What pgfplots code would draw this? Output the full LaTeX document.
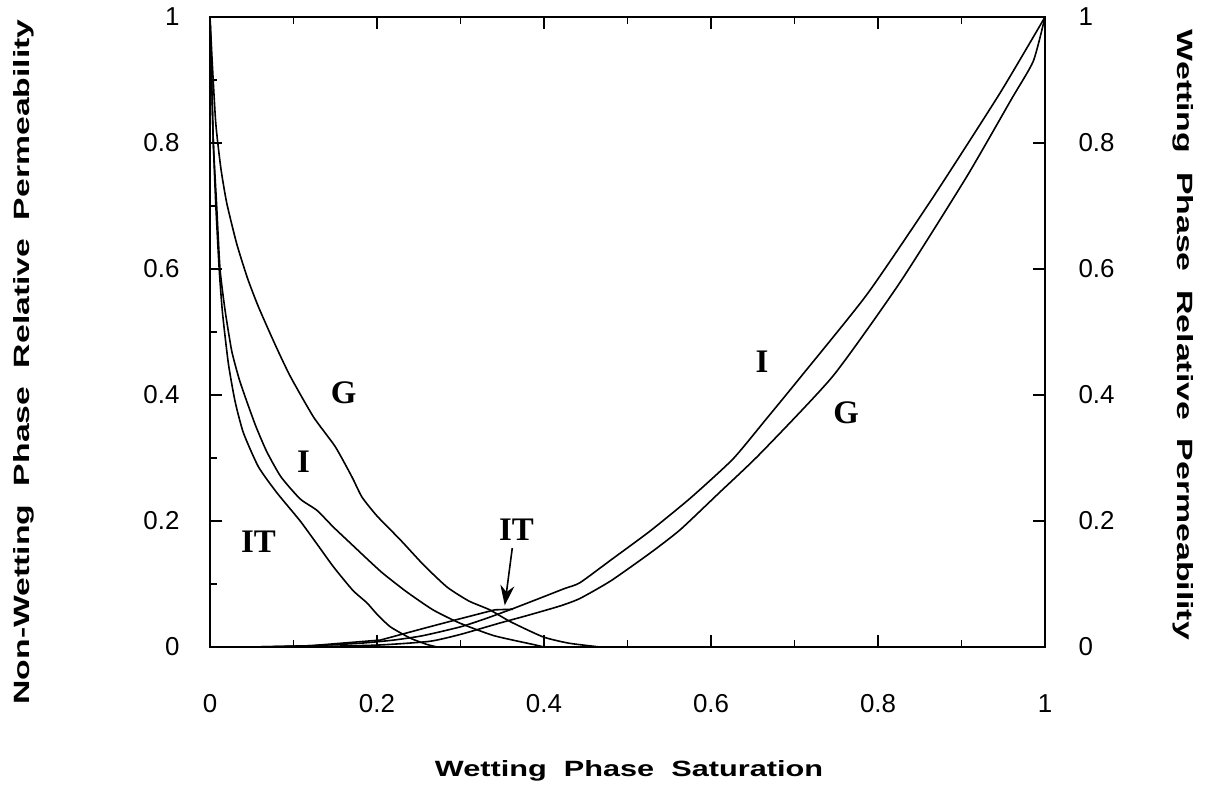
\documentclass[border=0pt]{standalone}
\usepackage{fontspec}
\setmainfont{Liberation Sans}
\newfontfamily\serifb{Liberation Serif}
\usepackage{graphicx}
\usepackage{pgfplots}
\pgfplotsset{compat=1.18}
\usetikzlibrary{arrows.meta}

\pgfplotstableread{
S k
0 1
0.003 0.92
0.007 0.83
0.013 0.76
0.02 0.705
0.032 0.64
0.045 0.585
0.058 0.54
0.078 0.48
0.096 0.43
0.124 0.365
0.150 0.318
0.170 0.27
0.182 0.238
0.200 0.208
0.228 0.17
0.256 0.13
0.284 0.095
0.310 0.073
0.335 0.059
0.360 0.040
0.399 0.016
0.430 0.006
0.467 0
}\nwG

\pgfplotstableread{
S k
0 1
0.002 0.9
0.004 0.8
0.008 0.7
0.012 0.6
0.018 0.535
0.026 0.47
0.035 0.425
0.044 0.39
0.055 0.35
0.068 0.31
0.085 0.27
0.108 0.235
0.128 0.217
0.148 0.19
0.168 0.165
0.188 0.14
0.207 0.117
0.235 0.088
0.267 0.059
0.299 0.038
0.340 0.018
0.387 0.004
0.400 0
}\nwI

\pgfplotstableread{
S k
0 1
0.002 0.9
0.004 0.8
0.007 0.7
0.011 0.6
0.015 0.53
0.022 0.45
0.030 0.39
0.040 0.34
0.058 0.286
0.080 0.245
0.108 0.2
0.130 0.16
0.148 0.127
0.171 0.09
0.188 0.07
0.200 0.052
0.216 0.032
0.240 0.014
0.260 0.004
0.272 0
}\nwIT

\pgfplotstableread{
S k
0.05 0
0.12 0.002
0.18 0.006
0.22 0.011
0.255 0.018
0.300 0.032
0.330 0.045
0.363 0.061
0.400 0.080
0.425 0.093
0.443 0.102
0.480 0.138
0.527 0.184
0.575 0.236
0.626 0.298
0.665 0.360
0.707 0.428
0.787 0.560
0.866 0.714
0.946 0.879
1 1
}\wI

\pgfplotstableread{
S k
0.10 0
0.20 0.003
0.263 0.009
0.300 0.020
0.347 0.038
0.380 0.050
0.419 0.065
0.443 0.077
0.480 0.105
0.527 0.149
0.563 0.186
0.610 0.245
0.659 0.307
0.746 0.430
0.826 0.578
0.906 0.746
0.960 0.870
0.986 0.930
1 1
}\wG

\pgfplotstableread{
S k
0.05 0
0.12 0.002
0.204 0.011
0.260 0.031
0.300 0.045
0.341 0.059
0.363 0.060
}\wIT

\begin{document}
\begin{tikzpicture}[x=1bp,y=1bp]
\pgfplotsset{
  common/.style={
    at={(0,0)}, anchor=south west,
    width=835bp, height=630bp, scale only axis,
    xmin=0, xmax=1, ymin=0, ymax=1,
    tick align=inside,
    major tick length=12bp, minor tick length=7bp,
    axis line style={line width=1.8bp},
    every tick/.style={black, line width=1.4bp},
    ticklabel style={font=\fontsize{26}{26}\selectfont},
    /pgf/number format/assume math mode=true,
  },
  curve/.style={black, line width=1.6bp, no marks, smooth, tension=0.35},
}
\begin{axis}[common,
    xtick={0,0.2,0.4,0.6,0.8,1},
    minor xtick={0.1,0.3,0.5,0.7,0.9},
    ytick={0,0.2,0.4,0.6,0.8,1},
    minor ytick={0.1,0.3,0.5,0.7,0.9},
    xtick pos=both, xticklabel pos=lower,
    ytick pos=left, yticklabel pos=left,
    xticklabel style={yshift=-44bp},
    yticklabel style={xshift=-27bp},
  ]
  \addplot[curve] table[x=S,y=k] {\nwG};
  \addplot[curve] table[x=S,y=k] {\nwI};
  \addplot[curve] table[x=S,y=k] {\nwIT};
  \addplot[curve] table[x=S,y=k] {\wI};
  \addplot[curve] table[x=S,y=k] {\wG};
  \addplot[curve, sharp plot] table[x=S,y=k] {\wIT};
  \node[font=\serifb\bfseries\fontsize{33}{33}\selectfont] at (axis cs:0.160,0.404) {G};
  \node[font=\serifb\bfseries\fontsize{33}{33}\selectfont] at (axis cs:0.112,0.294) {I};
  \node[font=\serifb\bfseries\fontsize{33}{33}\selectfont] at (axis cs:0.058,0.167) {IT};
  \node[font=\serifb\bfseries\fontsize{33}{33}\selectfont] at (axis cs:0.367,0.186) {IT};
  \node[font=\serifb\bfseries\fontsize{33}{33}\selectfont] at (axis cs:0.661,0.453) {I};
  \node[font=\serifb\bfseries\fontsize{33}{33}\selectfont] at (axis cs:0.762,0.371) {G};
  \draw[black, line width=1.6bp, -{Stealth[length=20bp,width=14bp]}] (axis cs:0.362,0.157) -- (axis cs:0.353,0.066);
\end{axis}
\begin{axis}[common,
    xtick=\empty,
    ytick={0,0.2,0.4,0.6,0.8,1},
    ytick pos=right, yticklabel pos=right,
    yticklabel style={xshift=30bp},
  ]
\end{axis}
\node[anchor=base] at (419,-130) {\resizebox{388bp}{16bp}{\bfseries Wetting\ \ Phase\ \ Saturation}};
\node[rotate=90] at (-186,285) {\resizebox{685bp}{16bp}{\bfseries Non-Wetting\ \ Phase\ \ Relative\ \ Permeability}};
\node[rotate=-90] at (973,312) {\resizebox{610bp}{16bp}{\bfseries Wetting\ \ Phase\ \ Relative\ \ Permeability}};
\pgfresetboundingbox
\useasboundingbox (-210,-141) rectangle (1005,647);
\end{tikzpicture}
\end{document}
